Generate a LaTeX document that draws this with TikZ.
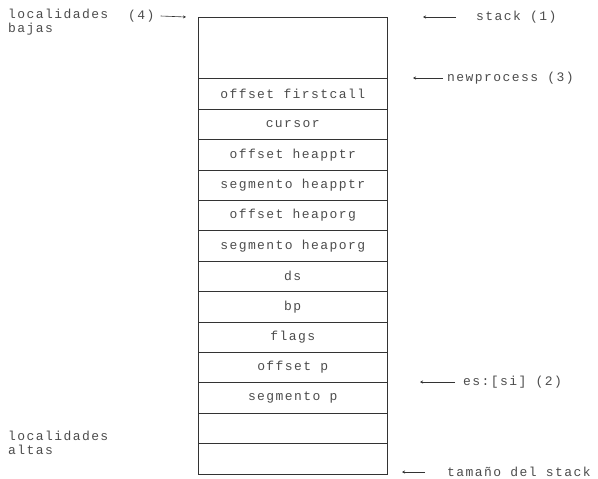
\documentclass[tikz,border=0pt]{standalone}
\usepackage{fontspec}
\setmonofont[LetterSpace=11]{Liberation Mono}
\usetikzlibrary{positioning,arrows.meta}

\begin{document}
\begin{tikzpicture}[x=1pt,y=-1pt,
  font=\ttfamily\fontsize{13}{14}\selectfont, text=black!70,
  celda/.style={draw=black!80,line width=0.6pt,minimum width=188.5pt,minimum height=30.4pt,inner sep=0pt,outer sep=0pt},
  nota/.style={anchor=west,inner sep=0pt,align=left},
  flecha/.style={draw=black!80,line width=0.6pt,-{Stealth[length=3pt,width=3pt]}}]
\useasboundingbox (0,0) rectangle (598,479);
\node[celda,minimum height=61.4pt,anchor=north west] (c0) at (198.5,17.3) {};
\foreach \txt [count=\i, remember=\i as \j (initially 0)] in {offset firstcall,cursor,offset heapptr,segmento heapptr,offset heaporg,segmento heaporg,ds,bp,flags,offset p,segmento p,{},{}}
  \node[celda,below=0pt of c\j] (c\i) {\txt};

\node[nota] (bajas) at (8,22.5) {localidades\\bajas};
\node[nota] (cuatro) at (128,16) {(4)};
\coordinate (cuatro-f) at (186,17);
\draw[flecha] ([xshift=6pt]cuatro.east) -- (cuatro-f);
\node[nota] (altas) at (8,443) {localidades\\altas};

\node[nota] (pila) at (476,17) {stack (1)};
\coordinate (pila-f) at (423,17);
\draw[flecha] ([xshift=-20pt]pila.west) -- (pila-f);
\node[nota] (nuevo) at (447,78) {newprocess (3)};
\coordinate (nuevo-f) at (413,78);
\draw[flecha] ([xshift=-4pt]nuevo.west) -- (nuevo-f);
\node[nota] (essi) at (463,382) {es:[si] (2)};
\coordinate (essi-f) at (420,382);
\draw[flecha] ([xshift=-8pt]essi.west) -- (essi-f);
\node[nota] (tam) at (447,472) {tamaño del stack};
\coordinate (tam-f) at (402,472);
\draw[flecha] ([xshift=-22pt]tam.west) -- (tam-f);
\end{tikzpicture}
\end{document}
